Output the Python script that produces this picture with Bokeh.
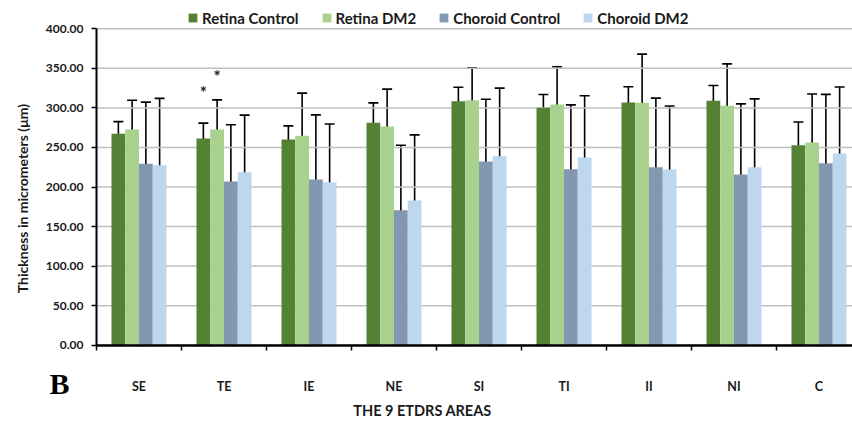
import math
from bokeh.plotting import figure
from bokeh.models import (Range1d, FixedTicker, NumeralTickFormatter, Whisker,
                          ColumnDataSource, Label, TeeHead, LinearAxis)
from bokeh.core.properties import value
from bokeh.embed import file_html
from bokeh.resources import INLINE

# ---------------- data ----------------
areas = ["SE", "TE", "IE", "NE", "SI", "TI", "II", "NI", "C"]
series = ["Retina Control", "Retina DM2", "Choroid Control", "Choroid DM2"]
colors = ["#548235", "#A9D18E", "#8497B0", "#BDD7EE"]

retina_control = [267.2, 261.3, 260.0, 281.1, 308.5, 300.1, 306.8, 309.0, 252.9]
retina_dm2 = [272.7, 272.7, 264.7, 276.5, 309.8, 304.3, 306.4, 302.7, 256.3]
choroid_control = [229.3, 206.9, 209.5, 170.7, 232.2, 222.5, 225.0, 215.8, 230.1]
choroid_dm2 = [227.6, 218.7, 206.1, 182.9, 239.0, 237.3, 222.1, 225.0, 242.3]

retina_control_sd = [15.5, 19.4, 17.3, 25.3, 17.7, 16.9, 20.0, 19.4, 29.2]
retina_dm2_sd = [37.0, 37.5, 54.0, 47.2, 40.8, 47.8, 61.6, 52.9, 61.3]
choroid_control_sd = [78.0, 71.8, 81.7, 82.0, 78.8, 81.3, 87.4, 89.3, 87.0]
choroid_dm2_sd = [84.5, 72.2, 73.5, 83.0, 86.0, 78.0, 80.3, 86.4, 84.1]

y_ticks = [0, 50, 100, 150, 200, 250, 300, 350, 400]

# significance markers: area, series index, height
star_area = ["TE", "TE"]
star_series = [0, 1]
star_y = [319.5, 339.7]

means = [retina_control, retina_dm2, choroid_control, choroid_dm2]
sds = [retina_control_sd, retina_dm2_sd, choroid_control_sd, choroid_dm2_sd]

FONT = "Lato"
BAR_W = 0.1618
PX_X = 85.0      # pixels per category
PX_Y = 0.791     # pixels per micrometer
X0, Y0 = 96.0, 344.7   # pixel position of data origin
W, H = 852, 421

p = figure(width=W, height=H, output_backend="svg", toolbar_location=None,
           x_range=Range1d(-X0 / PX_X, (W - X0) / PX_X),
           y_range=Range1d(-(H - Y0) / PX_Y, Y0 / PX_Y),
           x_axis_location=None, y_axis_location=None,
           min_border_left=0, min_border_right=0, min_border_top=0,
           min_border_bottom=0)
p.outline_line_color = None
p.background_fill_color = "white"
p.border_fill_color = "white"
p.xgrid.visible = False
p.ygrid.visible = False

n = len(areas)
# horizontal gridlines
p.segment(x0=[0] * len(y_ticks), x1=[n] * len(y_ticks), y0=y_ticks, y1=y_ticks,
          line_color="#BFBFBF", line_width=1.5)

for s, (name, col, m, sd) in enumerate(zip(series, colors, means, sds)):
    xs = [i + 0.5 + (s - 1.5) * BAR_W for i in range(n)]
    src = ColumnDataSource(dict(x=xs, top=m,
                                upper=[a + b for a, b in zip(m, sd)],
                                lower=[a - b for a, b in zip(m, sd)]))
    p.vbar(x="x", top="top", bottom=0, width=BAR_W, source=src,
           fill_color=col, line_color=None, legend_label=name)
    w = Whisker(base="x", upper="upper", lower="lower", source=src,
                dimension="height", line_color="black", line_width=1.6,
                upper_head=TeeHead(size=10, line_color="black", line_width=1.6),
                lower_head=TeeHead(size=10, line_color="black", line_width=1.6))
    p.add_layout(w)

# asterisks
sx = [areas.index(a) + 0.5 + (s - 1.5) * BAR_W for a, s in zip(star_area, star_series)]
p.text(x=sx, y=star_y, text=["*"] * len(sx), text_font=value(FONT),
       text_font_size="17px", text_font_style="bold", text_align="center",
       text_baseline="middle", text_color="#222222")

# y axis
yax = LinearAxis(fixed_location=0, bounds=(0, 400))
yax.ticker = FixedTicker(ticks=y_ticks)
yax.formatter = NumeralTickFormatter(format="0.00")
yax.axis_line_color = "black"
yax.axis_line_width = 2
yax.major_tick_line_color = "black"
yax.major_tick_line_width = 1.5
yax.major_tick_out = 5
yax.major_tick_in = 0
yax.minor_tick_line_color = None
yax.major_label_text_font = FONT
yax.major_label_text_font_style = "bold"
yax.major_label_text_font_size = "12px"
yax.major_label_text_color = "#1a1a1a"
yax.major_label_standoff = 8
p.add_layout(yax, "left")

# x axis
centers = [i + 0.5 for i in range(n)]
xax = LinearAxis(fixed_location=0, bounds=(0, n))
xax.ticker = FixedTicker(ticks=centers, minor_ticks=list(range(n + 1)))
xax.major_label_overrides = {c: a for c, a in zip(centers, areas)}
xax.axis_line_color = "black"
xax.axis_line_width = 2.5
xax.major_tick_line_color = None
xax.major_tick_out = 0
xax.major_tick_in = 0
xax.minor_tick_line_color = "black"
xax.minor_tick_line_width = 1.5
xax.minor_tick_out = 5
xax.minor_tick_in = 0
xax.major_label_text_font = FONT
xax.major_label_text_font_style = "bold"
xax.major_label_text_font_size = "12.5px"
xax.major_label_text_color = "#1a1a1a"
xax.major_label_standoff = 29
p.add_layout(xax, "below")

# titles as labels
p.add_layout(Label(x=(22 - X0) / PX_X, y=(Y0 - 198) / PX_Y,
                   text="Thickness in micrometers (μm)",
                   angle=math.pi / 2, text_align="center", text_baseline="middle",
                   text_font=FONT, text_font_style="bold", text_font_size="14px",
                   text_color="#1a1a1a"))
p.add_layout(Label(x=(422 - X0) / PX_X, y=(Y0 - 410) / PX_Y, text="THE 9 ETDRS AREAS",
                   text_align="center", text_baseline="middle",
                   text_font=FONT, text_font_style="bold", text_font_size="14.5px",
                   text_color="#1a1a1a"))
p.add_layout(Label(x=(59 - X0) / PX_X, y=(Y0 - 383) / PX_Y, text="B",
                   text_align="center", text_baseline="middle",
                   text_font="Liberation Serif", text_font_style="bold",
                   text_font_size="30px", text_color="black"))

# legend
lg = p.legend[0]
lg.orientation = "horizontal"
lg.location = (187, H - 18 - 8.5)
lg.border_line_color = None
lg.background_fill_alpha = 0
lg.padding = 0
lg.margin = 0
lg.spacing = 22
lg.glyph_width = 11
lg.glyph_height = 11
lg.label_standoff = 4
lg.label_height = 11
lg.label_text_font = FONT
lg.label_text_font_style = "bold"
lg.label_text_font_size = "15px"
lg.label_text_color = "#1a1a1a"
lg.label_text_baseline = "middle"

open("out.html", "w").write(file_html(p, INLINE))
